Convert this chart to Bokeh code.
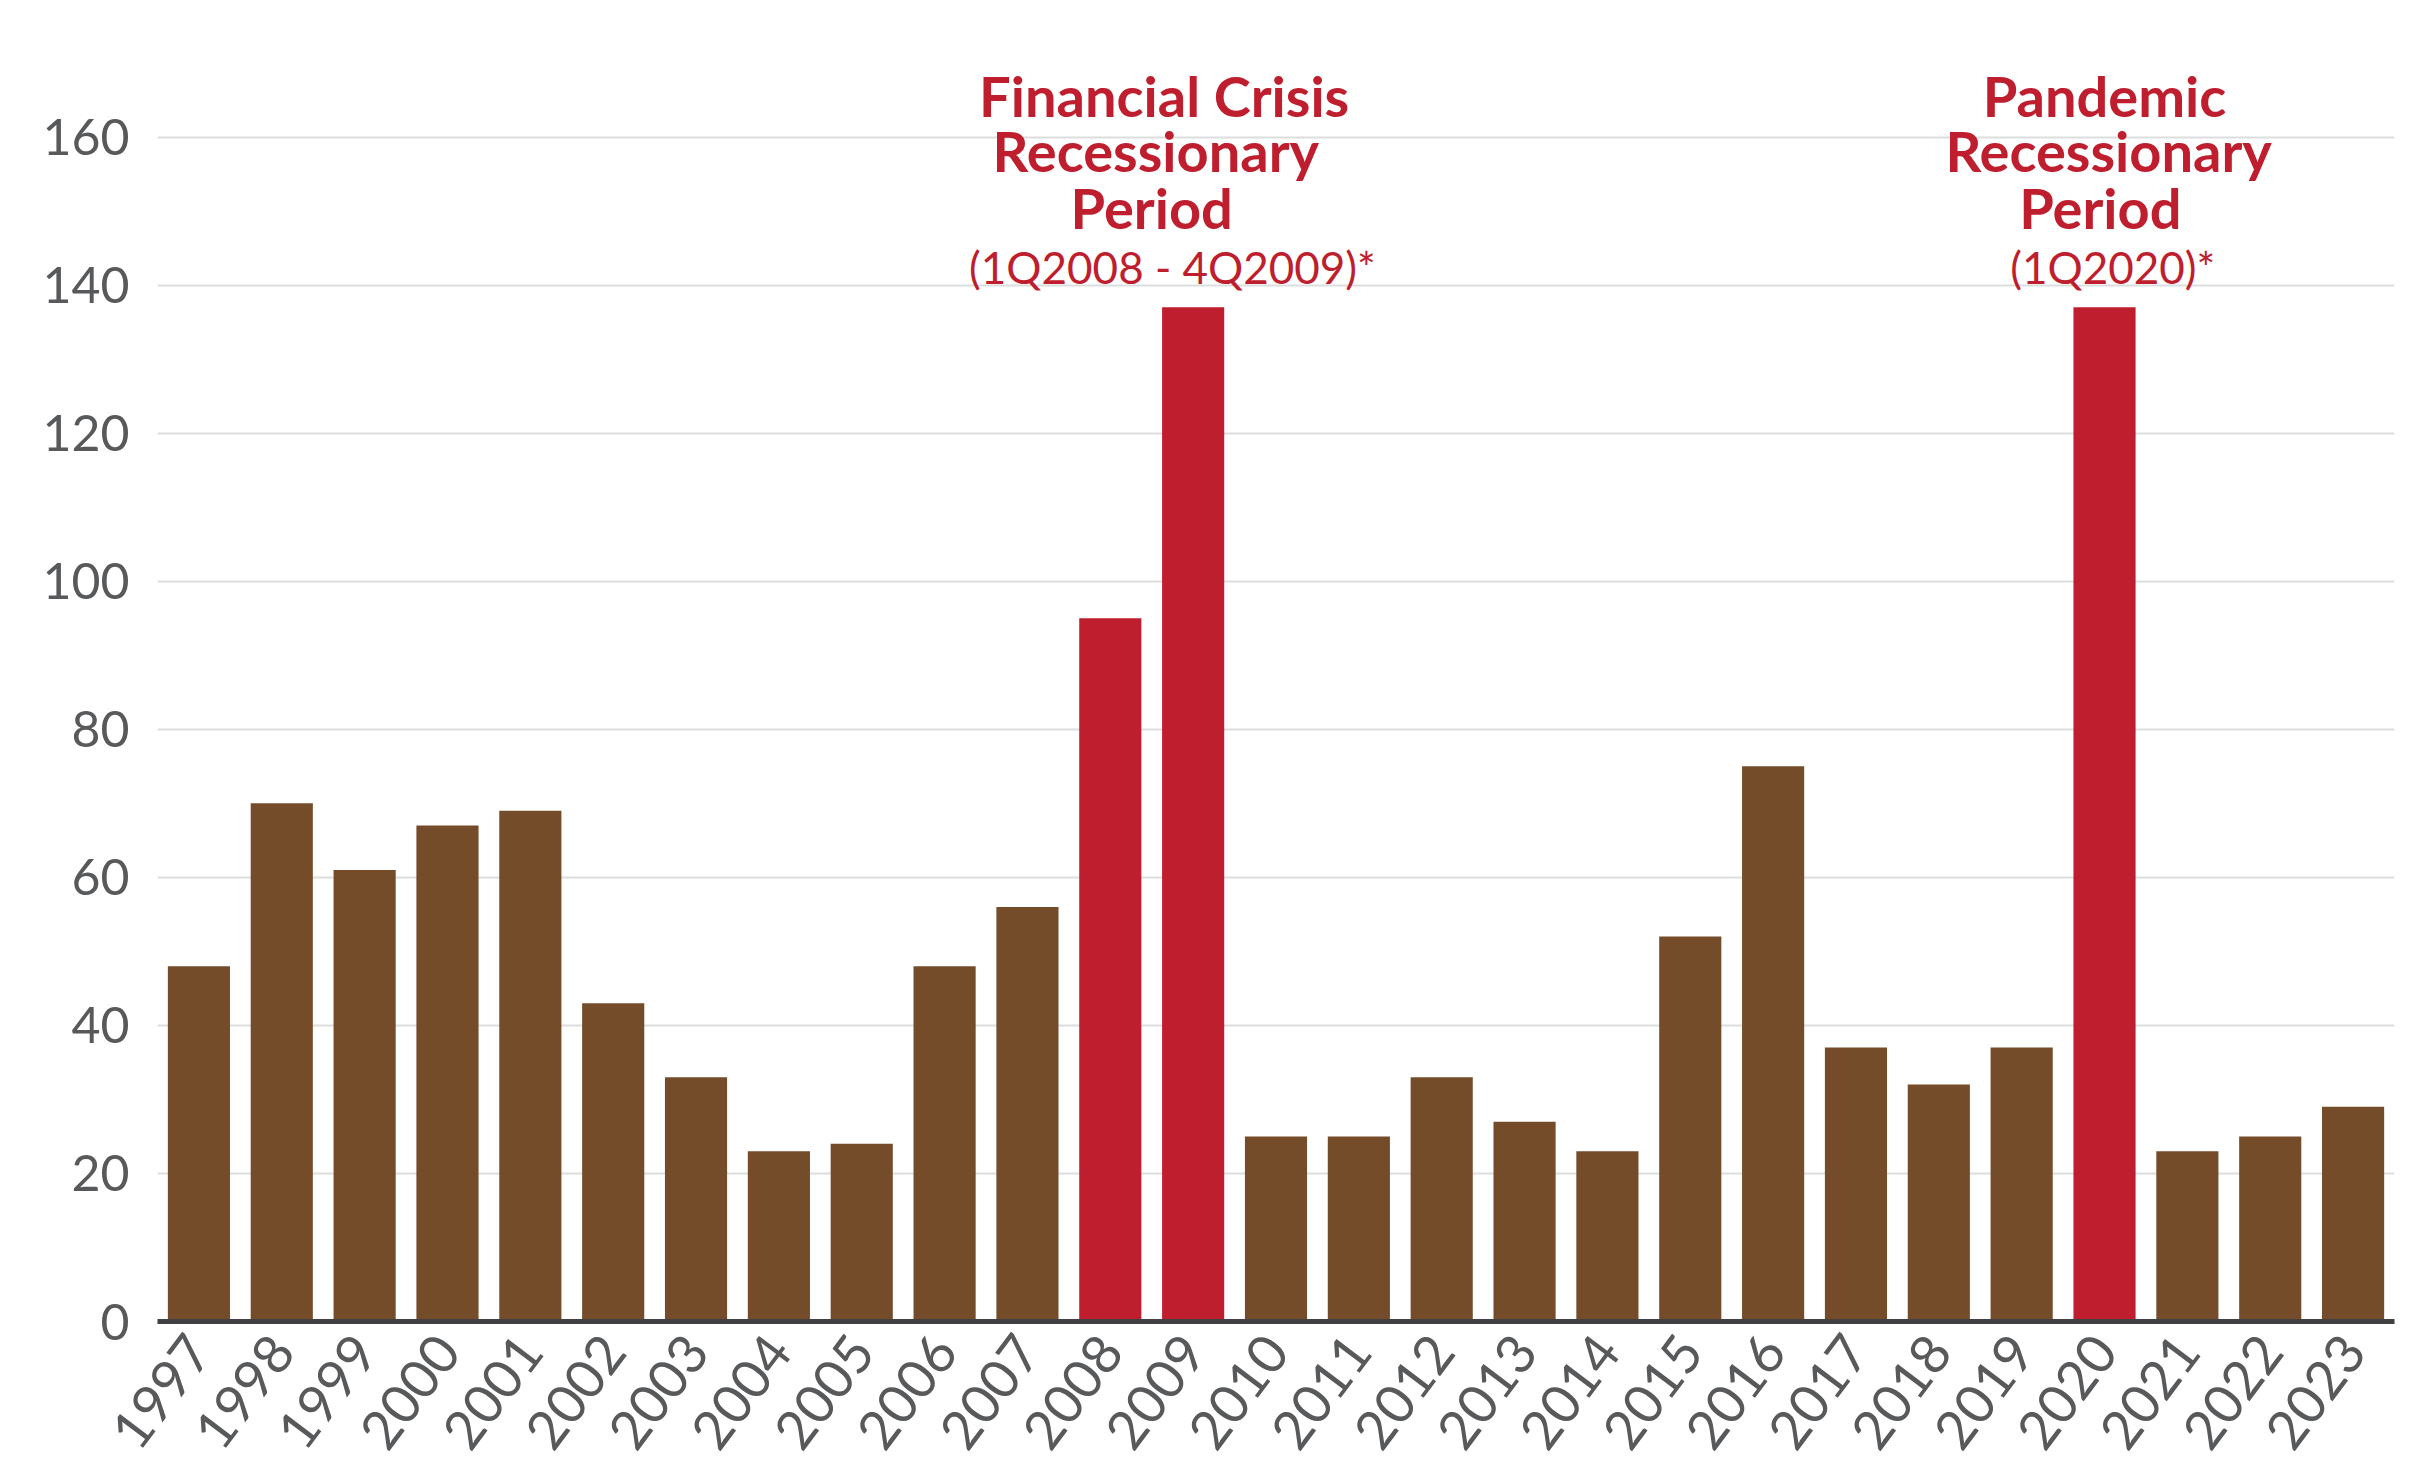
import math
from bokeh.plotting import figure
from bokeh.models import Range1d, FixedTicker, Label
from bokeh.embed import file_html
from bokeh.resources import INLINE

# Yearly counts (1997-2023); recession years highlighted in red
years = ["1997", "1998", "1999", "2000", "2001", "2002", "2003", "2004", "2005",
         "2006", "2007", "2008", "2009", "2010", "2011", "2012", "2013", "2014",
         "2015", "2016", "2017", "2018", "2019", "2020", "2021", "2022", "2023"]
counts = [48, 70, 61, 67, 69, 43, 33, 23, 24,
          48, 56, 95, 137, 25, 25, 33, 27, 23,
          52, 75, 37, 32, 37, 137, 23, 25, 29]
recession_years = ["2008", "2009", "2020"]
y_ticks = [0, 20, 40, 60, 80, 100, 120, 140, 160]

BROWN = "#744C29"
RED = "#BE1E2D"
GREY_TEXT = "#58595B"
FONT = "Lato"

xs = list(range(len(years)))
colors = [RED if y in recession_years else BROWN for y in years]

p = figure(width=2431, height=1479, output_backend="svg", toolbar_location=None,
           x_range=Range1d(-0.5, len(years) - 0.5), y_range=Range1d(0, 175.75),
           min_border_left=157, min_border_right=37, min_border_top=20,
           min_border_bottom=158)
p.outline_line_color = None
p.background_fill_color = "white"
p.border_fill_color = "white"

p.vbar(x=xs, top=counts, width=0.75, bottom=0, fill_color=colors, line_color=None)

# y axis: labels only, light horizontal grid
p.yaxis.ticker = FixedTicker(ticks=y_ticks)
p.yaxis.axis_line_color = None
p.yaxis.major_tick_line_color = None
p.yaxis.minor_tick_line_color = None
p.yaxis.major_label_text_font = FONT
p.yaxis.major_label_text_font_size = "50px"
p.yaxis.major_label_text_color = GREY_TEXT
p.yaxis.major_label_standoff = 22
p.ygrid.ticker = FixedTicker(ticks=y_ticks)
p.ygrid.grid_line_color = "#DCDDDE"
p.ygrid.grid_line_width = 2
p.xgrid.grid_line_color = None

# x axis: heavy baseline, rotated year labels
p.xaxis.ticker = FixedTicker(ticks=xs)
p.xaxis.major_label_overrides = {i: y for i, y in zip(xs, years)}
p.xaxis.axis_line_color = "#414042"
p.xaxis.axis_line_width = 5
p.xaxis.major_tick_line_color = None
p.xaxis.minor_tick_line_color = None
p.xaxis.major_label_orientation = math.radians(53)
p.xaxis.major_label_text_font = FONT
p.xaxis.major_label_text_font_size = "54px"
p.xaxis.major_label_text_color = GREY_TEXT
p.xaxis.major_label_standoff = 14

# Annotation lines: (x, y, text, size, bold, draws a white backing box)
annotations = [
    (11.65, 165.6, "Financial Crisis", "56px", True, True),
    (11.55, 158.2, "Recessionary", "56px", True, True),
    (11.5, 150.5, "Period", "56px", True, False),
    (11.75, 142.4, "(1Q2008 - 4Q2009)*", "44px", False, True),
    (23.0, 165.6, "Pandemic", "56px", True, True),
    (23.05, 158.2, "Recessionary", "56px", True, True),
    (22.95, 150.5, "Period", "56px", True, False),
    (23.1, 142.4, "(1Q2020)*", "44px", False, True),
]


def make_label(x, y, text, size, bold, **kw):
    return Label(x=x, y=y, text=text, text_align="center",
                 text_baseline="alphabetic", text_font=FONT,
                 text_font_size=size,
                 text_font_style="bold" if bold else "normal", **kw)


# white boxes that break the gridlines behind the annotation text
for x, y, text, size, bold, boxed in annotations:
    if boxed:
        p.add_layout(make_label(x, y, text, size, bold, text_alpha=0,
                                background_fill_color="white",
                                padding=dict(left=10, right=10, top=0, bottom=1)))

# the annotation text itself, drawn over the boxes
for x, y, text, size, bold, boxed in annotations:
    p.add_layout(make_label(x, y, text, size, bold, text_color=RED))

open("out.html", "w").write(file_html(p, INLINE))
